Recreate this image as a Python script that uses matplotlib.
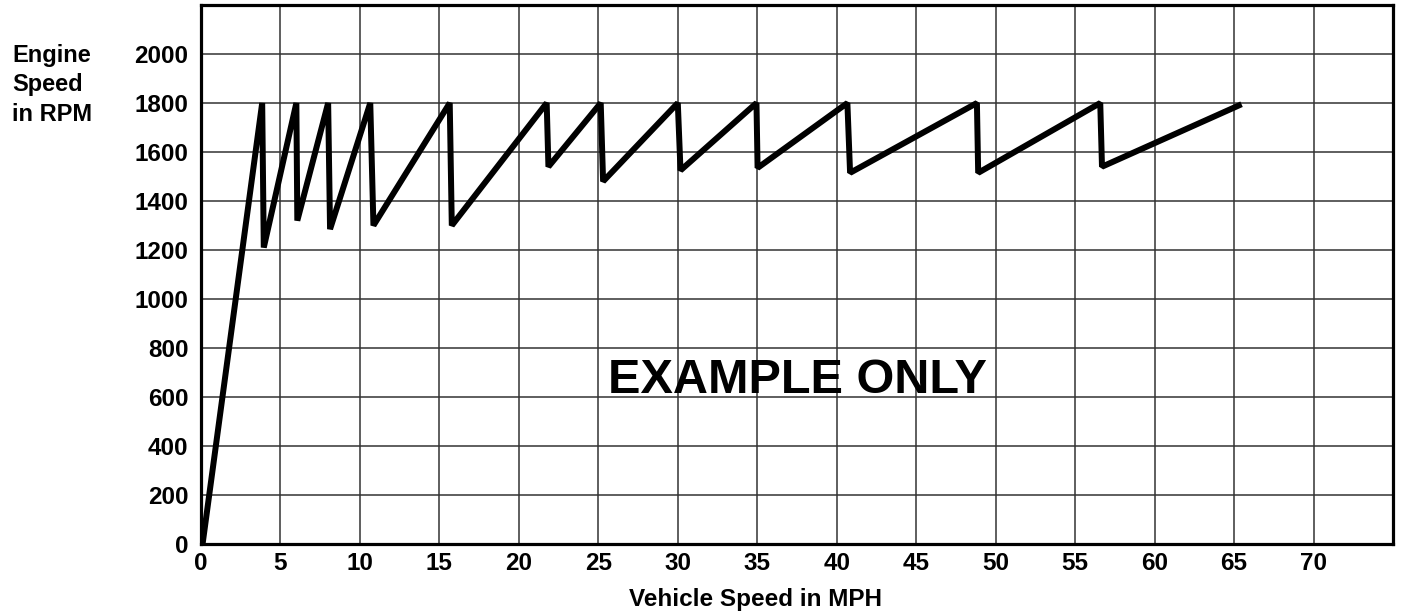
import matplotlib
matplotlib.use("Agg")
import matplotlib.pyplot as plt

plt.rcParams['font.family'] = ['Liberation Sans', 'DejaVu Sans']
plt.rcParams['font.weight'] = 'bold'

# shift curve
mph = [0.1, 3.85, 3.95, 6.0, 6.06, 8.0, 8.12, 10.65, 10.85, 15.65, 15.78,
       21.75, 21.86, 25.15, 25.3, 30.0, 30.17, 34.95, 35.02, 40.67, 40.84,
       48.82, 48.9, 56.58, 56.69, 65.3]
rpm = [0, 1800, 1210, 1800, 1320, 1800, 1285, 1800, 1300, 1800, 1300,
       1800, 1540, 1800, 1480, 1800, 1525, 1800, 1535, 1800, 1515,
       1800, 1515, 1800, 1540, 1790]

x_ticks = list(range(0, 75, 5))
y_ticks = list(range(0, 2001, 200))

fig = plt.figure(figsize=(14.05, 6.14), dpi=100)
ax = fig.add_axes([201/1405, 1 - 544/614, 1192/1405, 539/614])

ax.plot(mph, rpm, color='black', lw=4.3, solid_joinstyle='bevel', zorder=3)

ax.set_xlim(0, 75)
ax.set_ylim(0, 2200)
ax.set_xticks(x_ticks)
ax.set_yticks(y_ticks)
ax.grid(True, color='#333333', lw=1.1)
ax.set_axisbelow(True)
ax.tick_params(length=0, labelsize=17.5)
ax.tick_params(axis='y', pad=9)
ax.tick_params(axis='x', pad=6)
for lbl in ax.get_xticklabels() + ax.get_yticklabels():
    lbl.set_fontweight('bold')

for s in ax.spines.values():
    s.set_linewidth(2.3)
    s.set_zorder(4)

ax.set_xlabel('Vehicle Speed in MPH', fontsize=17.5, fontweight='bold')
ax.xaxis.set_label_coords(0.465, -0.082)

fig.text(12/1405, 1 - 44/614, 'Engine\nSpeed\nin RPM', fontsize=17,
         fontweight='bold', ha='left', va='top', linespacing=1.35)

ax.text(0.5, 0.28, 'EXAMPLE ONLY', transform=ax.transAxes, fontsize=35,
        fontweight='bold', ha='center', va='baseline', zorder=5)

fig.savefig('out.png', dpi=100)
